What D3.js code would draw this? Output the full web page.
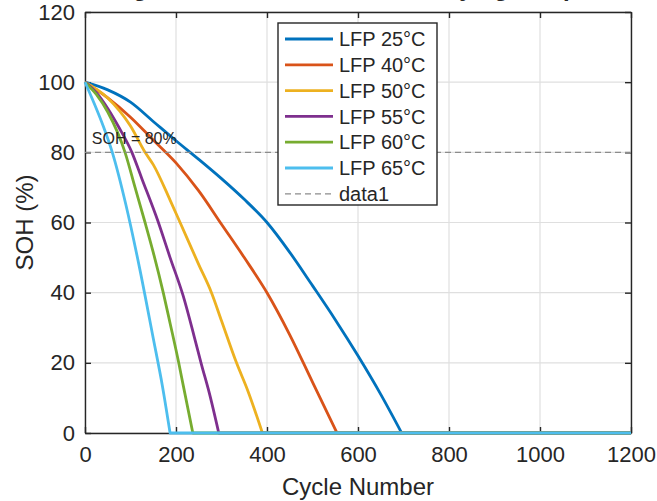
<!DOCTYPE html>
<html>
<head>
<meta charset="utf-8">
<script src="https://cdn.jsdelivr.net/npm/d3@7"></script>
<style>
  body { margin: 0; background: #fff; }
  text { font-family: "Liberation Sans", Arial, sans-serif; fill: #262626; }
</style>
</head>
<body>
<div id="chart"></div>
<script>
// series names and colours (MATLAB default order)
var seriesNames = ["LFP 25°C", "LFP 40°C", "LFP 50°C", "LFP 55°C", "LFP 60°C", "LFP 65°C"];
var seriesColors = ["#0072BD", "#D95319", "#EDB120", "#7E2F8E", "#77AC30", "#4DBEEE"];

// cycle number / SOH (%); each one stays at 0 up to 1200
var cyc25 = [0, 50, 100, 150, 200, 250, 300, 350, 400, 450, 500, 550, 600, 650, 696, 1200];
var soh25 = [100, 97.8, 94.3, 88.8, 83.3, 78, 72.5, 66.6, 60, 51.5, 42, 32.3, 22, 11, 0, 0];
var cyc40 = [0, 50, 100, 150, 200, 250, 300, 350, 400, 450, 500, 554, 1200];
var soh40 = [100, 95.5, 90, 83.5, 77, 69, 59.5, 50, 40, 28, 14.5, 0, 0];
var cyc50 = [0, 50, 100, 132, 150, 187, 209, 250, 278, 300, 333, 358, 390, 1200];
var soh50 = [100, 95.5, 87.5, 80, 76.5, 66.4, 60, 48, 40, 32, 20, 12, 0, 0];
var cyc55 = [0, 25, 50, 75, 103, 125, 160, 187, 216, 240, 256, 273, 294, 1200];
var soh55 = [100, 97, 92.5, 87, 80, 72.5, 60.5, 50, 39, 27.5, 19.5, 11.5, 0, 0];
var cyc60 = [0, 25, 50, 88, 110, 132, 150, 172, 187, 206, 216, 237, 1200];
var soh60 = [100, 96.5, 91.5, 80, 70, 60, 51.5, 40, 31.3, 20, 13.5, 0, 0];
var cyc65 = [0, 20, 40, 60, 90, 120, 150, 170, 187, 1200];
var soh65 = [100, 94, 87.5, 80, 65, 47, 27, 13.5, 0, 0];

var cycles = [cyc25, cyc40, cyc50, cyc55, cyc60, cyc65];
var sohs = [soh25, soh40, soh50, soh55, soh60, soh65];

// threshold and ticks
var thresholdSOH = 80;
var xTicks = [0, 200, 400, 600, 800, 1000, 1200];
var yTicks = [0, 20, 40, 60, 80, 100, 120];

// dimensions
var margin = {top: 12, right: 26, bottom: 68, left: 85},
    width = 657 - margin.left - margin.right,
    height = 501 - margin.top - margin.bottom;

var svg = d3.select("#chart")
  .append("svg")
    .attr("width", 657)
    .attr("height", 501);

// title sits above the picture, only its descenders peek in
svg.append("text")
  .attr("x", margin.left + width / 2)
  .attr("y", -4)
  .attr("text-anchor", "middle")
  .style("font-size", "24px")
  .style("font-weight", "bold")
  .text("SOH Degradation of LFP Cells at Varying Temperatures");

var g = svg.append("g")
  .attr("transform", "translate(" + margin.left + "," + margin.top + ")");

var x = d3.scaleLinear().domain([0, 1200]).range([0, width]);
var y = d3.scaleLinear().domain([0, 120]).range([height, 0]);

// grid
g.selectAll(".vgrid")
  .data(xTicks)
  .enter().append("line")
    .attr("x1", function(d) { return x(d); })
    .attr("x2", function(d) { return x(d); })
    .attr("y1", 0).attr("y2", height)
    .attr("stroke", "#dfdfdf").attr("stroke-width", 1.2);
g.selectAll(".hgrid")
  .data(yTicks)
  .enter().append("line")
    .attr("y1", function(d) { return y(d); })
    .attr("y2", function(d) { return y(d); })
    .attr("x1", 0).attr("x2", width)
    .attr("stroke", "#dfdfdf").attr("stroke-width", 1.2);

// axes, ticks pointing inward, on all four sides
function styleAxis(sel, hideText) {
  sel.select(".domain").attr("stroke", "#262626").attr("stroke-width", 1.4);
  sel.selectAll(".tick line").attr("stroke", "#262626").attr("stroke-width", 1.4);
  sel.selectAll(".tick text").style("font-size", "22px").attr("fill", "#262626");
  if (hideText) sel.selectAll(".tick text").remove();
}

var fmt = d3.format("d");

g.append("g")
  .attr("transform", "translate(0," + height + ")")
  .call(d3.axisBottom(x).tickValues(xTicks).tickFormat(fmt).tickSizeInner(-6).tickSizeOuter(0).tickPadding(13))
  .call(styleAxis, false);
g.append("g")
  .call(d3.axisTop(x).tickValues(xTicks).tickSizeInner(-6).tickSizeOuter(0))
  .call(styleAxis, true);
g.append("g")
  .call(d3.axisLeft(y).tickValues(yTicks).tickFormat(fmt).tickSizeInner(-6).tickSizeOuter(0).tickPadding(10))
  .call(styleAxis, false);
g.append("g")
  .attr("transform", "translate(" + width + ",0)")
  .call(d3.axisRight(y).tickValues(yTicks).tickSizeInner(-6).tickSizeOuter(0))
  .call(styleAxis, true);

// axis labels
g.append("text")
  .attr("x", width / 2)
  .attr("y", height + 62)
  .attr("text-anchor", "middle")
  .style("font-size", "24px")
  .text("Cycle Number");

g.append("text")
  .attr("transform", "rotate(-90)")
  .attr("x", -(y(60)))
  .attr("y", -52)
  .attr("text-anchor", "middle")
  .style("font-size", "24px")
  .text("SOH (%)");

// curves: smooth fade part, then a straight run along 0
var smooth = d3.line()
  .curve(d3.curveMonotoneX)
  .x(function(d) { return x(d[0]); })
  .y(function(d) { return y(d[1]); });
var straight = d3.line()
  .x(function(d) { return x(d[0]); })
  .y(function(d) { return y(d[1]); });

seriesNames.forEach(function(name, i) {
  var pts = cycles[i].map(function(c, j) { return [c, sohs[i][j]]; });
  var n = pts.length;
  var d = smooth(pts.slice(0, n - 1)) + straight(pts.slice(n - 2)).replace(/^M[^L]*/, "");
  g.append("path")
    .attr("fill", "none")
    .attr("stroke", seriesColors[i])
    .attr("stroke-width", 2.8)
    .attr("stroke-linejoin", "round")
    .attr("d", d);
});

// threshold line
g.append("line")
  .attr("x1", x(0)).attr("x2", x(1200))
  .attr("y1", y(thresholdSOH)).attr("y2", y(thresholdSOH))
  .attr("stroke", "#8c8c8c")
  .attr("stroke-width", 1.2)
  .attr("stroke-dasharray", "6,4");

g.append("text")
  .attr("x", x(15))
  .attr("y", y(thresholdSOH) - 8)
  .style("font-size", "16px")
  .text("SOH = " + thresholdSOH + "%");

// legend
var legend = svg.append("g").attr("transform", "translate(278,23)");
legend.append("rect")
  .attr("width", 159).attr("height", 182)
  .attr("fill", "#fff")
  .attr("stroke", "#262626").attr("stroke-width", 1.4);

var legendNames = seriesNames.concat(["data1"]);
legendNames.forEach(function(name, i) {
  var ly = 16 + i * 25.8;
  legend.append("line")
    .attr("x1", 7).attr("x2", 55)
    .attr("y1", ly).attr("y2", ly)
    .attr("stroke", i < seriesColors.length ? seriesColors[i] : "#8c8c8c")
    .attr("stroke-width", i < seriesColors.length ? 2.8 : 1.2)
    .attr("stroke-dasharray", i < seriesColors.length ? null : "6,4");
  legend.append("text")
    .attr("x", 61)
    .attr("y", ly)
    .attr("dy", "0.36em")
    .style("font-size", "20px")
    .text(name);
});
</script>
</body>
</html>
